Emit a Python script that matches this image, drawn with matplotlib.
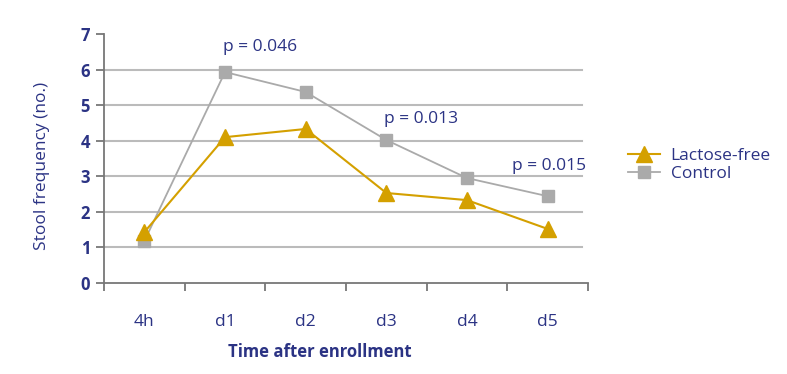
import matplotlib.pyplot as plt
from matplotlib.ticker import FixedLocator

plt.rcParams['font.family'] = ['Open Sans', 'DejaVu Sans']

categories = ['4h', 'd1', 'd2', 'd3', 'd4', 'd5']
lactose_free = [1.43, 4.10, 4.33, 2.53, 2.33, 1.52]
control = [1.18, 5.93, 5.37, 4.02, 2.95, 2.44]
p_labels = ['p = 0.046', 'p = 0.013', 'p = 0.015']
p_pos = [(1.44, 6.63), (3.43, 4.61), (5.02, 3.29)]

navy = '#2B3384'
gold = '#D4A000'
grey = '#AAAAAA'

fig = plt.figure(figsize=(7.87, 3.74), dpi=100)
ax = fig.add_axes([104 / 787, 1 - 283 / 374, 484 / 787, 249 / 374])

x = list(range(len(categories)))
ax.plot(x, lactose_free, color=gold, lw=1.5, marker='^', ms=11,
        markeredgecolor=gold, label='Lactose-free', zorder=4)
ax.plot(x, control, color=grey, lw=1.3, marker='s', ms=9,
        markeredgecolor=grey, label='Control', zorder=3)

ax.set_xlim(-0.5, 5.5)
ax.set_ylim(0, 7)
ax.set_yticks(range(8))
for v in range(1, 7):
    ax.axhline(v, xmax=0.988, color='#BBBBBB', lw=1.5, zorder=1)

ax.set_xticks(x)
ax.set_xticklabels(categories, color=navy, fontsize=12.5)
ax.xaxis.set_minor_locator(FixedLocator([i - 0.5 for i in range(7)]))
ax.tick_params(axis='x', which='major', length=0, pad=22)
ax.tick_params(axis='x', which='minor', length=6, width=1.3, color='#777777', direction='out')
ax.tick_params(axis='y', length=6, width=1.3, color='#777777', labelcolor=navy,
               labelsize=12, pad=4)
for lab in ax.get_yticklabels():
    lab.set_fontweight('bold')

for s in ['top', 'right']:
    ax.spines[s].set_visible(False)
for s in ['left', 'bottom']:
    ax.spines[s].set_color('#777777')
    ax.spines[s].set_linewidth(1.3)

for txt, (px, py) in zip(p_labels, p_pos):
    ax.text(px, py, txt, color=navy, fontsize=12.5, ha='center', va='center')

fig.text(320 / 787, 1 - 352 / 374, 'Time after enrollment', color=navy,
         fontsize=12, fontweight='bold', ha='center', va='center')
fig.text(42 / 787, 1 - 166 / 374, 'Stool frequency (no.)', color=navy,
         fontsize=12.5, rotation=90, ha='center', va='center')

leg = ax.legend(loc='center left', bbox_to_anchor=(1.083, 0.474), frameon=False,
                fontsize=12.5, labelcolor=navy, handlelength=1.85,
                borderaxespad=0, borderpad=0, labelspacing=0.1, handletextpad=0.6)

fig.savefig('out.png', dpi=100)
